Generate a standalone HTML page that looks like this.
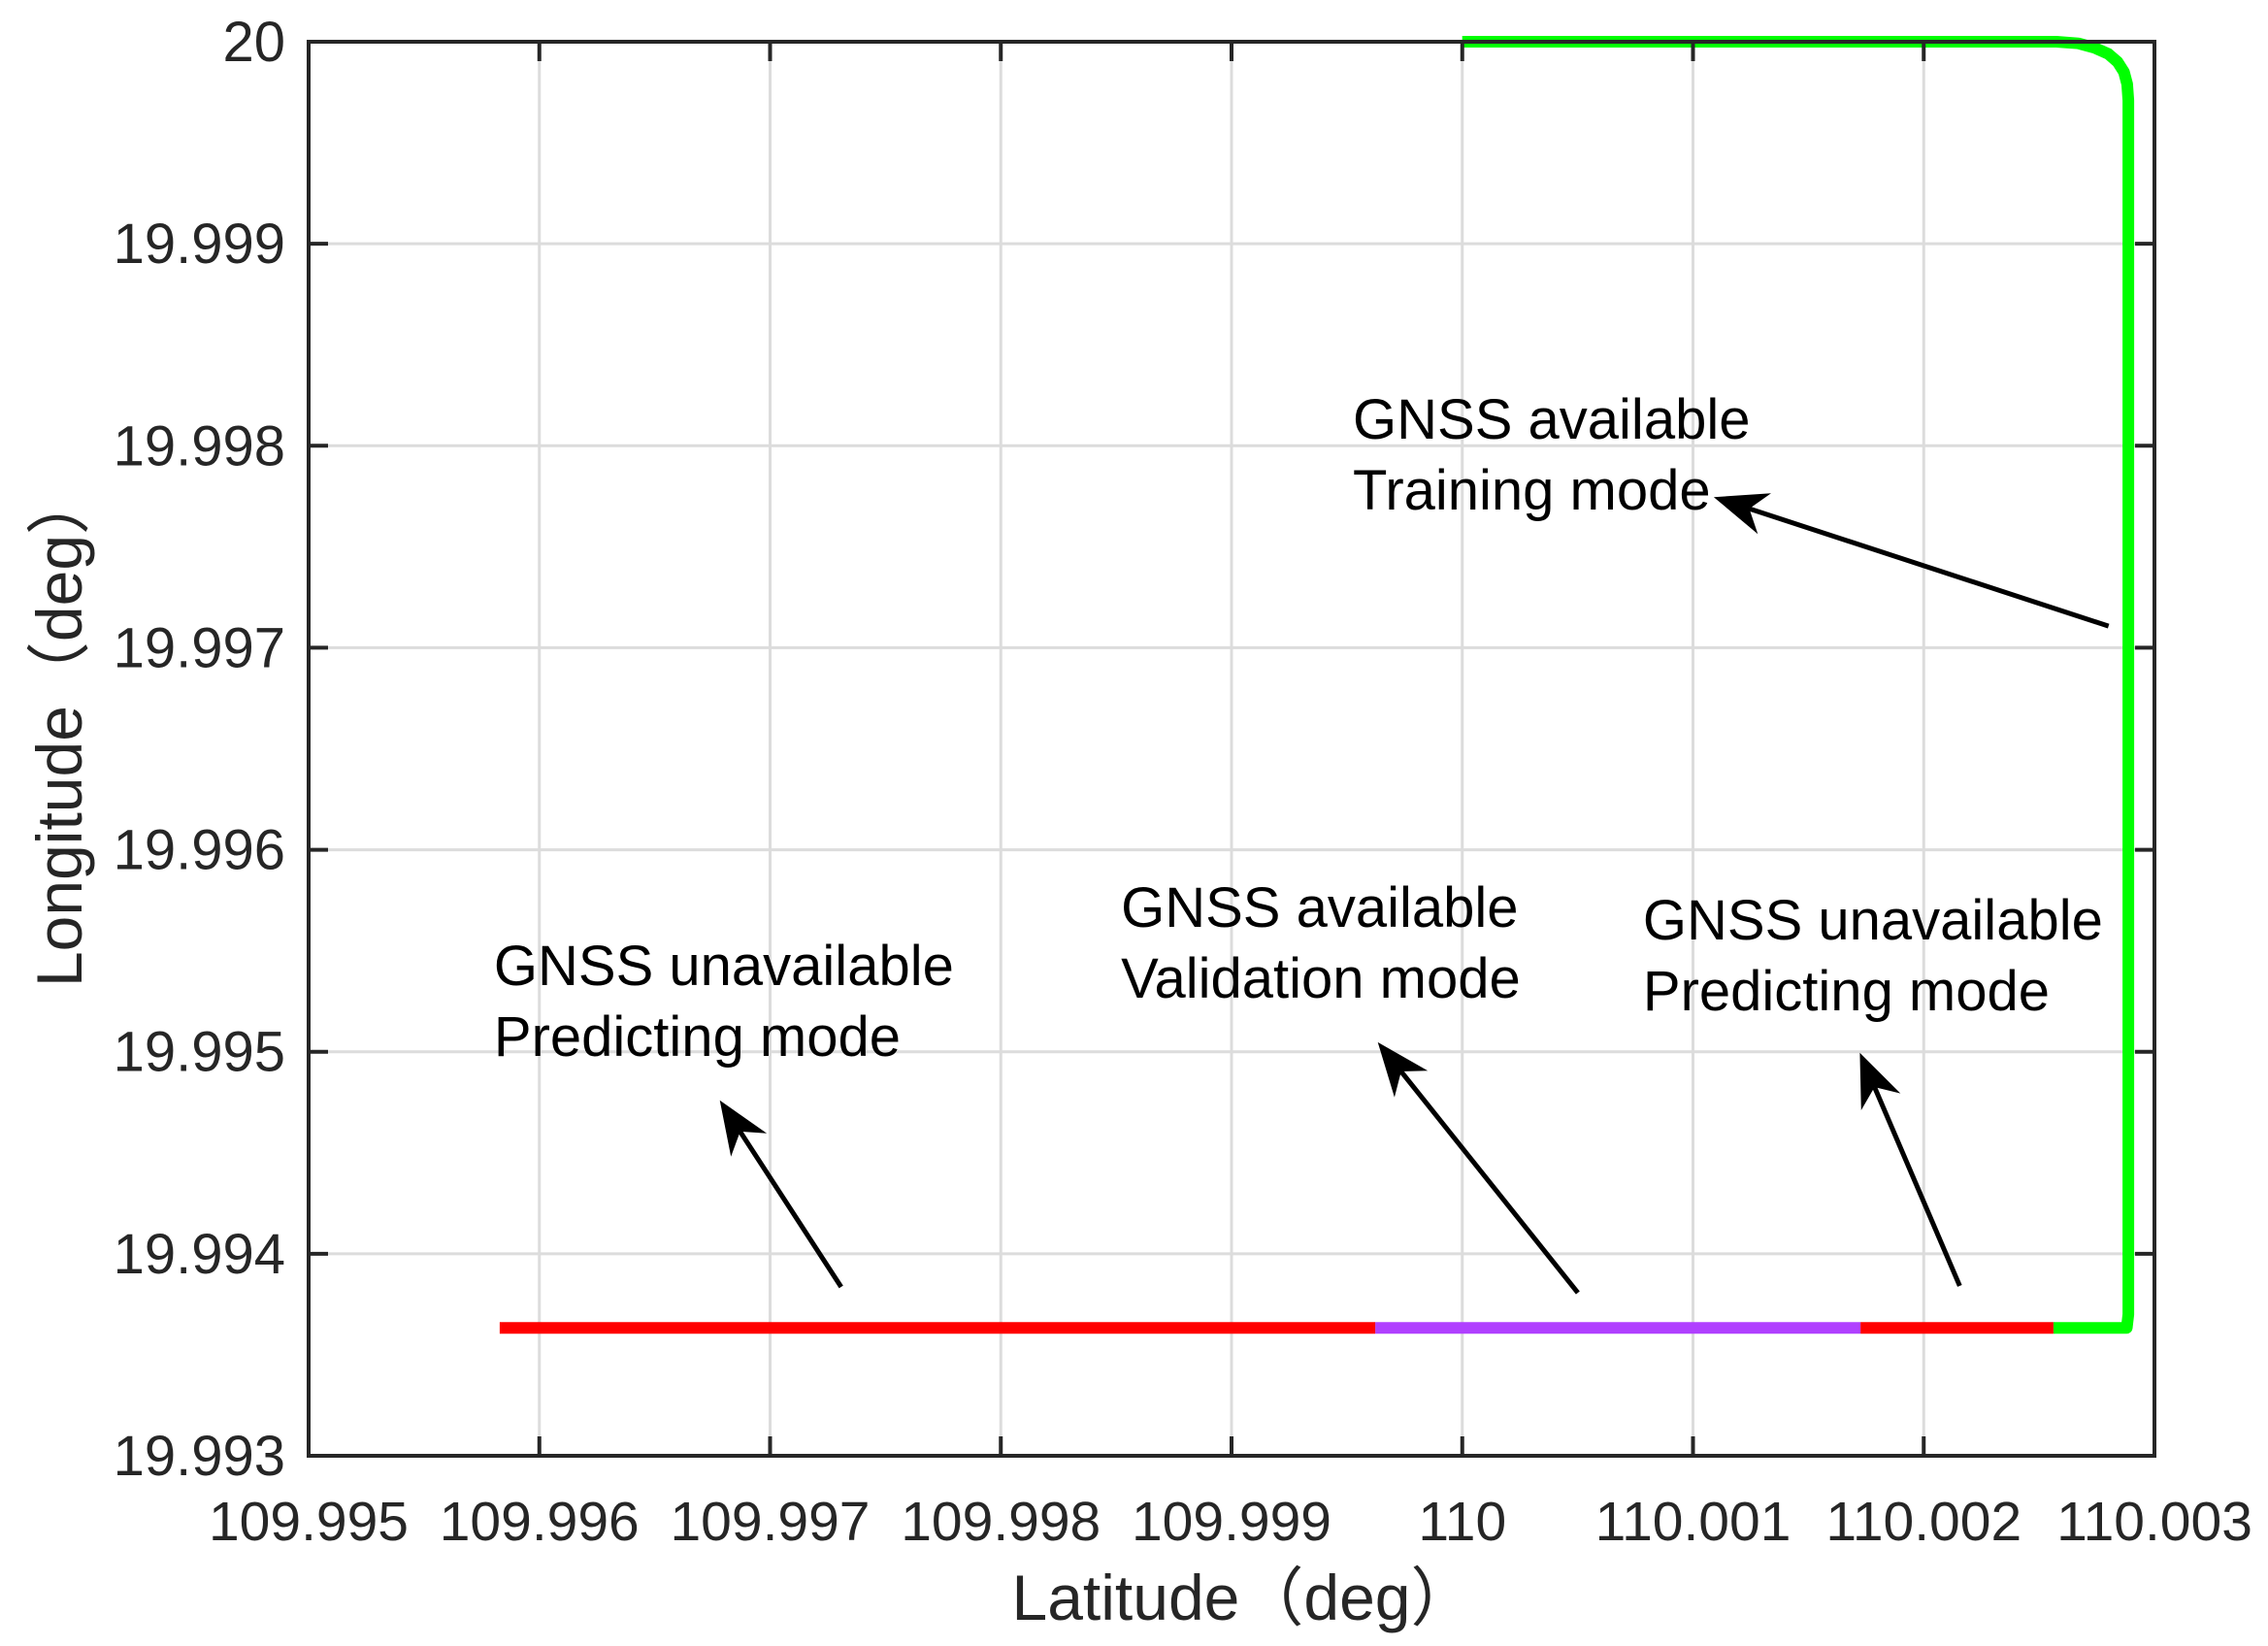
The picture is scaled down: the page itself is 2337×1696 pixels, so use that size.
<!DOCTYPE html>
<html><head><meta charset="utf-8"><style>
html,body{margin:0;padding:0;background:#fff;}
svg{display:block;}
text{font-family:"Liberation Sans","Noto Sans CJK SC",sans-serif;fill:#262626;}
.ann{fill:#000;font-size:58px;}
</style></head><body>
<svg id="chart" width="2337" height="1696" viewBox="0 0 2337 1696" xmlns="http://www.w3.org/2000/svg">
<g id="grid"></g>
<g id="series"></g>
<g id="axes"></g>
<g id="annots"></g>
</svg>
<script>
const xTicks = [109.995,109.996,109.997,109.998,109.999,110,110.001,110.002,110.003];
const xTickLabels = ["109.995","109.996","109.997","109.998","109.999","110","110.001","110.002","110.003"];
const yTicks = [19.993,19.994,19.995,19.996,19.997,19.998,19.999,20];
const yTickLabels = ["19.993","19.994","19.995","19.996","19.997","19.998","19.999","20"];
const trainLat = [110.0,110.002575,110.00267,110.00274,110.00280,110.00284,110.002868,110.002882,110.002887,110.002887,110.002880,110.002562];
const trainLon = [20.0,20.0,19.999992,19.99997,19.99994,19.9999,19.99985,19.99979,19.99971,19.99370,19.993633,19.993633];
const pred2Lat = [110.002562,110.001726];
const pred2Lon = [19.993633,19.993633];
const validLat = [110.001726,109.999623];
const validLon = [19.993633,19.993633];
const pred1Lat = [109.999623,109.995828];
const pred1Lon = [19.993633,19.993633];
const annTexts = [["GNSS available","Training mode"],["GNSS unavailable","Predicting mode"],["GNSS available","Validation mode"],["GNSS unavailable","Predicting mode"]];
const annAnchorLat = [109.999526,109.995803,109.998521,110.000783];
const annAnchorLon = [19.998035,19.995330,19.995618,19.995556];
const arrowFromLat = [110.002801,109.997308,110.000501,110.002156];
const arrowFromLon = [19.997107,19.993836,19.993807,19.993841];
const arrowToLat = [110.001090,109.996782,109.999634,110.001723];
const arrowToLon = [19.997746,19.994760,19.995047,19.994995];

const L=318,R=2220,T=43,B=1500;
const X0=109.995,X1=110.003,Y0=19.993,Y1=20;
const sx=v=>L+(v-X0)/(X1-X0)*(R-L);
const sy=v=>B-(v-Y0)/(Y1-Y0)*(B-T);
const NS="http://www.w3.org/2000/svg";
function mk(tag,attrs,parent){const e=document.createElementNS(NS,tag);for(const k in attrs)e.setAttribute(k,attrs[k]);parent.appendChild(e);return e;}
const grid=document.getElementById('grid'),series=document.getElementById('series'),axes=document.getElementById('axes'),annots=document.getElementById('annots');

xTicks.forEach((v,i)=>{
  const x=sx(v);
  const g=mk('line',{x1:x,x2:x,y1:T,y2:B,stroke:'#dcdcdc','stroke-width':3},grid);
  
  
  const t1=mk('line',{x1:x,x2:x,y1:B,y2:B-20,stroke:'#262626','stroke-width':4},axes);
  
  
  const t2=mk('line',{x1:x,x2:x,y1:T,y2:T+20,stroke:'#262626','stroke-width':4},axes);
  
  
  const lb=mk('text',{x:x,y:1587,'text-anchor':'middle','font-size':57},axes);
  lb.textContent=xTickLabels[i];
  
  
});
yTicks.forEach((v,i)=>{
  const y=sy(v);
  const g=mk('line',{x1:L,x2:R,y1:y,y2:y,stroke:'#dcdcdc','stroke-width':3},grid);
  
  
  const t1=mk('line',{x1:L,x2:L+20,y1:y,y2:y,stroke:'#262626','stroke-width':4},axes);
  
  
  const t2=mk('line',{x1:R,x2:R-20,y1:y,y2:y,stroke:'#262626','stroke-width':4},axes);
  
  
  const lb=mk('text',{x:294,y:y+20,'text-anchor':'end','font-size':58},axes);
  lb.textContent=yTickLabels[i];
  
  
});
const box=mk('rect',{x:L,y:T,width:R-L,height:B-T,fill:'none',stroke:'#262626','stroke-width':4},axes);



function seg(xs,ys,color,name){
  const d=xs.map((v,i)=>(i?'L':'M')+sx(v).toFixed(1)+' '+sy(ys[i]).toFixed(1)).join(' ');
  const p=mk('path',{d:d,fill:'none',stroke:color,'stroke-width':12,'stroke-linejoin':'round'},series);
  
  
}
seg(trainLat,trainLon,'#00ff00','training-segment');
seg(pred2Lat,pred2Lon,'#ff0000','predicting-segment-2');
seg(validLat,validLon,'#b040ff','validation-segment');
seg(pred1Lat,pred1Lon,'#ff0000','predicting-segment-1');

annTexts.forEach((lines,i)=>{
  const x=sx(annAnchorLat[i]),y=sy(annAnchorLon[i]);
  lines.forEach((s,j)=>{
    const t=mk('text',{x:x,y:y+j*73,class:'ann'},annots);
    t.textContent=s;
    
    
  });
  const x1=sx(arrowFromLat[i]),y1=sy(arrowFromLon[i]),x2=sx(arrowToLat[i]),y2=sy(arrowToLon[i]);
  const dx=x2-x1,dy=y2-y1,len=Math.hypot(dx,dy),ux=dx/len,uy=dy/len,px=-uy,py=ux;
  const hl=55,hw=22,nb=hl*0.7;
  const ln=mk('line',{x1:x1,y1:y1,x2:x2-ux*nb,y2:y2-uy*nb,stroke:'#000','stroke-width':5},annots);
  
  
  const pts=[[x2,y2],[x2-ux*hl+px*hw,y2-uy*hl+py*hw],[x2-ux*nb,y2-uy*nb],[x2-ux*hl-px*hw,y2-uy*hl-py*hw]];
  const hd=mk('polygon',{points:pts.map(p=>p[0].toFixed(1)+','+p[1].toFixed(1)).join(' '),fill:'#000'},annots);
  
  
});

const xt=mk('text',{x:1281,y:1669,'text-anchor':'middle','font-size':66},axes);
xt.textContent='Latitude（deg）';


const yt=mk('text',{x:0,y:0,'text-anchor':'middle','font-size':66,transform:'translate(84,751) rotate(-90)'},axes);
yt.textContent='Longitude（deg）';


</script>
</body></html>
